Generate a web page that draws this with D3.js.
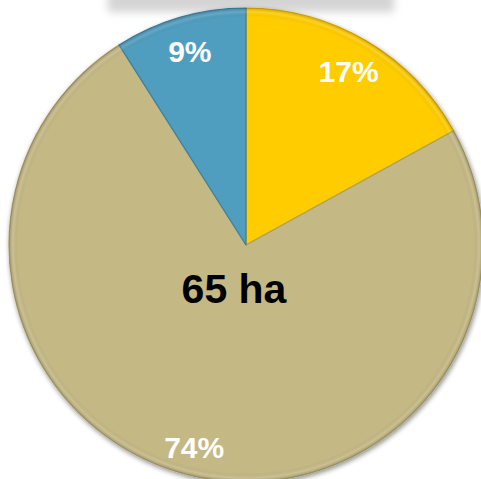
<!DOCTYPE html>
<html>
<head>
<meta charset="utf-8">
<script src="https://cdn.jsdelivr.net/npm/d3@7"></script>
<style>
  body { margin: 0; background: #fff; }
  svg { display: block; }
  text { font-family: "Liberation Sans", Arial, sans-serif; font-weight: bold; }
</style>
</head>
<body>
<svg id="chart" width="481" height="479"></svg>
<script>
// slice data (clockwise from 12 o'clock)
const categories = ["A", "B", "C"];
const values = [17, 74, 9];
const labels = ["17%", "74%", "9%"];
const colors = ["#FFCC00", "#C4B884", "#509DBF"];
const edgeColors = ["#D9A800", "#A99E68", "#3D7F9E"];
const totalLabel = "65 ha";

const svg = d3.select("#chart");
const cx = 246, cy = 245, r = 237;

const defs = svg.append("defs");
// blurred grey bar at top (shadow of a box above)
const blur = defs.append("filter").attr("id", "blur").attr("x", "-20%").attr("y", "-100%").attr("width", "140%").attr("height", "300%");
blur.append("feGaussianBlur").attr("stdDeviation", 4);
const shadow = defs.append("filter").attr("id", "pieShadow").attr("x", "-10%").attr("y", "-10%").attr("width", "120%").attr("height", "120%");
shadow.append("feGaussianBlur").attr("in", "SourceAlpha").attr("stdDeviation", 2.5).attr("result", "b");
shadow.append("feOffset").attr("dx", 1).attr("dy", 2).attr("result", "o");
shadow.append("feComponentTransfer").attr("in", "o").attr("result", "s")
  .append("feFuncA").attr("type", "linear").attr("slope", 0.45);
const m = shadow.append("feMerge");
m.append("feMergeNode").attr("in", "s");
m.append("feMergeNode").attr("in", "SourceGraphic");

svg.append("rect").attr("x", 108).attr("y", -10).attr("width", 286).attr("height", 22)
  .attr("fill", "#d4d4d4").attr("filter", "url(#blur)");

const pie = d3.pie().sort(null).value(d => d);
const arcs = pie(values);
const arc = d3.arc().innerRadius(0).outerRadius(r);
const bevel = d3.arc().innerRadius(r - 9).outerRadius(r);

const g = svg.append("g").attr("transform", `translate(${cx},${cy})`);
const pg = g.append("g").attr("filter", "url(#pieShadow)");

pg.selectAll("path.slice").data(arcs).enter().append("path")
  .attr("class", "slice")
  .attr("d", arc)
  .attr("fill", (d, i) => colors[i])
  .attr("stroke", (d, i) => edgeColors[i])
  .attr("stroke-width", 1.2)
  .attr("stroke-linejoin", "round");

// soft bevel along the rim
const rim = defs.append("radialGradient").attr("id", "rim").attr("gradientUnits", "userSpaceOnUse")
  .attr("cx", 0).attr("cy", 0).attr("r", r);
rim.append("stop").attr("offset", (r - 9) / r).attr("stop-color", "#000").attr("stop-opacity", 0);
rim.append("stop").attr("offset", (r - 4) / r).attr("stop-color", "#fff").attr("stop-opacity", 0.12);
rim.append("stop").attr("offset", 1).attr("stop-color", "#000").attr("stop-opacity", 0.18);
g.selectAll("path.rim").data(arcs).enter().append("path")
  .attr("class", "rim").attr("d", bevel).attr("fill", "url(#rim)");

// label distance from centre, as a fraction of the radius
const labelR = [0.85, 0.88, 0.85];
g.selectAll("text.pct").data(arcs).enter().append("text")
  .attr("class", "pct")
  .attr("x", (d, i) => Math.sin((d.startAngle + d.endAngle) / 2) * r * labelR[i])
  .attr("y", (d, i) => -Math.cos((d.startAngle + d.endAngle) / 2) * r * labelR[i])
  .attr("text-anchor", "middle").attr("dominant-baseline", "central")
  .attr("fill", "#fff").attr("font-size", 30)
  .text((d, i) => labels[i]);

g.append("text").attr("x", -12).attr("y", 44)
  .attr("text-anchor", "middle").attr("dominant-baseline", "central")
  .attr("fill", "#000").attr("font-size", 41)
  .text(totalLabel);
</script>
</body>
</html>
